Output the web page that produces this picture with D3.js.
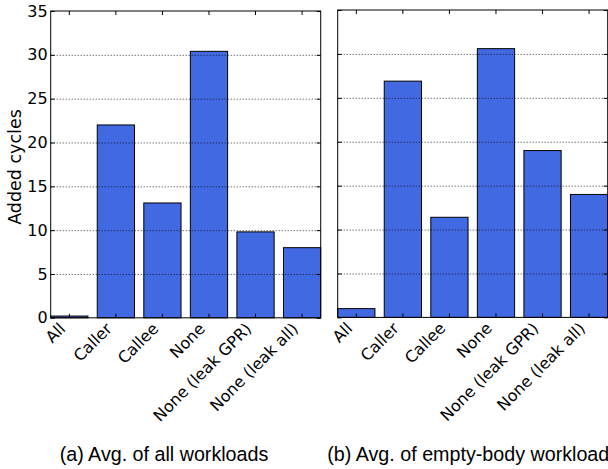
<!DOCTYPE html>
<html>
<head>
<meta charset="utf-8">
<script src="https://cdn.jsdelivr.net/npm/d3@7"></script>
<style>
  body { margin: 0; background: #fff; }
  svg { display: block; }
</style>
</head>
<body>
<svg id="chart" width="608" height="469"></svg>
<script>
// Nhóm cấu hình
const categories = ["All", "Caller", "Callee", "None", "None (leak GPR)", "None (leak all)"];
const valuesAll = [0.2, 22.0, 13.1, 30.4, 9.8, 8.0];
const valuesEmpty = [1.0, 26.9, 11.4, 30.6, 19.0, 14.0];
const yTicks = [0, 5, 10, 15, 20, 25, 30, 35];
const captions = ["(a) Avg. of all workloads", "(b) Avg. of empty-body workloads"];

const svg = d3.select("#chart");
const tickFont = "DejaVu Sans";

// hai panel
const panels = [
  {values: valuesAll, x0: 50.7, x1: 320.7, top: 11, bottom: 317.8, yLabels: true, caption: captions[0], capX: 164},
  {values: valuesEmpty, x0: 337.7, x1: 607.7, top: 10, bottom: 317.4, yLabels: false, caption: captions[1], capX: 327.3}
];

panels.forEach((p, pi) => {
  const x = d3.scaleBand()
    .domain(categories)
    .range([p.x0, p.x1])
    .paddingInner(0.2)
    .paddingOuter(0);

  const y = d3.scaleLinear()
    .domain([0, 35])
    .range([p.bottom, p.top]);

  const g = svg.append("g");

  // cột
  g.selectAll("rect.bar")
    .data(p.values)
    .enter().append("rect")
      .attr("class", "bar")
      .attr("x", (d, i) => x(categories[i]))
      .attr("y", d => y(d))
      .attr("width", x.bandwidth())
      .attr("height", d => y(0) - y(d))
      .attr("fill", "#4169E1")
      .attr("stroke", "#000")
      .attr("stroke-width", 1);

  // lưới ngang (vẽ trên cột)
  g.append("g")
    .attr("transform", `translate(${p.x0},0)`)
    .call(d3.axisLeft(y).tickValues(yTicks.slice(1, -1)).tickSize(-(p.x1 - p.x0)).tickFormat(""))
    .call(a => a.select(".domain").remove())
    .selectAll("line")
      .attr("stroke", "#000")
      .attr("stroke-width", 0.8)
      .attr("stroke-dasharray", "1,2");

  // trục trái
  const left = g.append("g")
    .attr("transform", `translate(${p.x0},0)`)
    .call(d3.axisLeft(y).tickValues(yTicks).tickSize(-4).tickPadding(3)
      .tickFormat(p.yLabels ? d3.format("d") : ""));
  left.select(".domain").remove();
  left.selectAll("text")
    .style("font-family", tickFont)
    .style("font-size", "16px")
    .attr("fill", "#000");

  // trục phải
  g.append("g")
    .attr("transform", `translate(${p.x1},0)`)
    .call(d3.axisRight(y).tickValues(yTicks).tickSize(-4).tickFormat(""))
    .select(".domain").remove();

  // trục dưới
  const bottom = g.append("g")
    .attr("transform", `translate(0,${p.bottom})`)
    .call(d3.axisBottom(x).tickSize(-4).tickFormat(""));
  bottom.select(".domain").remove();

  // trục trên
  g.append("g")
    .attr("transform", `translate(0,${p.top})`)
    .call(d3.axisTop(x).tickSize(-4).tickFormat(""))
    .select(".domain").remove();

  // khung
  g.append("rect")
    .attr("x", p.x0)
    .attr("y", p.top)
    .attr("width", p.x1 - p.x0)
    .attr("height", p.bottom - p.top)
    .attr("fill", "none")
    .attr("stroke", "#000")
    .attr("stroke-width", 1);

  // nhãn trục x xoay 45 độ
  g.selectAll("text.xlab")
    .data(categories)
    .enter().append("text")
      .attr("class", "xlab")
      .attr("transform", d => `translate(${x(d) + x.bandwidth() / 2 - 3},${p.bottom + 12}) rotate(-45)`)
      .attr("text-anchor", "end")
      .style("font-family", tickFont)
      .style("font-size", "16px")
      .text(d => d);

  // chú thích dưới
  svg.append("text")
    .attr("x", p.capX)
    .attr("y", 461)
    .attr("text-anchor", pi === 0 ? "middle" : "start")
    .style("font-family", "Liberation Sans, Arial, sans-serif")
    .style("font-size", "19.7px")
    .text(p.caption);
});

// nhãn trục y
svg.append("text")
  .attr("transform", "translate(21,167) rotate(-90)")
  .attr("text-anchor", "middle")
  .style("font-family", tickFont)
  .style("font-size", "17.5px")
  .text("Added cycles");
</script>
</body>
</html>
